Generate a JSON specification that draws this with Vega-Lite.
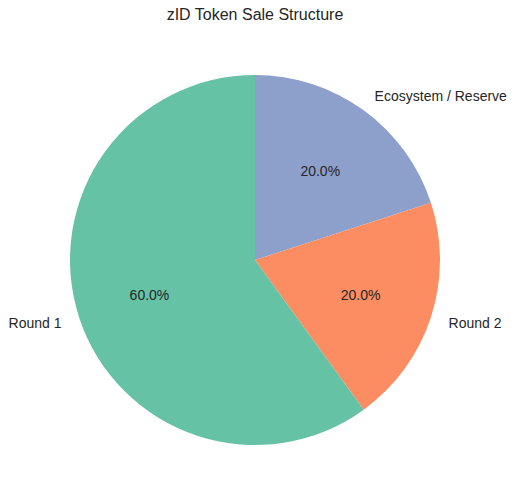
{
  "$schema": "https://vega.github.io/schema/vega-lite/v6.json",
  "autosize": "none",
  "width": 510,
  "height": 460,
  "padding": {"top": 30, "left": 0, "right": 6, "bottom": 12},
  "background": "white",
  "title": {"text": "zID Token Sale Structure", "font": "Liberation Sans", "fontSize": 16, "fontWeight": "normal", "color": "#262626", "offset": 7},
  "data": {"values": [
    {"label": "Ecosystem / Reserve", "share": 0.2, "order": 1},
    {"label": "Round 2", "share": 0.2, "order": 2},
    {"label": "Round 1", "share": 0.6, "order": 3}
  ]},
  "encoding": {
    "theta": {"field": "share", "type": "quantitative", "stack": true},
    "order": {"field": "order", "type": "quantitative"}
  },
  "layer": [
    {
      "mark": {"type": "arc", "outerRadius": 185},
      "encoding": {
        "color": {"field": "label", "type": "nominal", "legend": null,
          "scale": {"domain": ["Round 1", "Round 2", "Ecosystem / Reserve"], "range": ["#66c2a5", "#fc8d62", "#8da0cb"]}}
      }
    },
    {
      "mark": {"type": "text", "radius": 111, "font": "Liberation Sans", "fontSize": 14, "color": "#262626", "align": "center", "baseline": "middle", "dy": 2},
      "encoding": {"text": {"field": "share", "type": "quantitative", "format": ".1%"}}
    },
    {
      "mark": {"type": "text", "radius": 203.5, "font": "Liberation Sans", "fontSize": 14, "color": "#262626", "align": "right", "baseline": "middle", "dy": 1.5},
      "encoding": {"text": {"condition": {"test": "datum.label === 'Round 1'", "field": "label"}, "value": ""}}
    },
    {
      "mark": {"type": "text", "radius": 203.5, "font": "Liberation Sans", "fontSize": 14, "color": "#262626", "align": "left", "baseline": "middle", "dy": 1.5},
      "encoding": {"text": {"condition": {"test": "datum.label !== 'Round 1'", "field": "label"}, "value": ""}}
    }
  ],
  "config": {"view": {"stroke": null}}
}
